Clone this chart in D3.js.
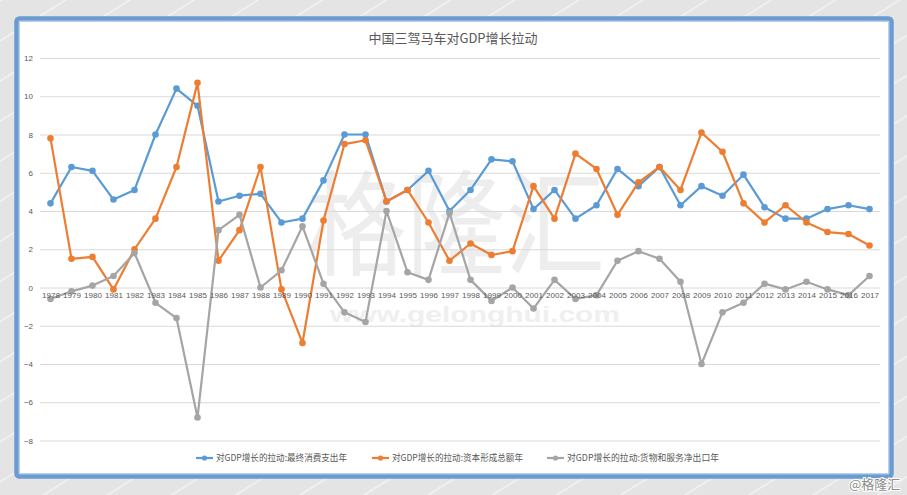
<!DOCTYPE html>
<html><head><meta charset="utf-8">
<script src="https://cdn.jsdelivr.net/npm/d3@7"></script>
<style>
html,body{margin:0;padding:0;background:#e3e3e3;}
svg{display:block;}
</style></head>
<body>
<svg id="c" width="907" height="495"></svg>
<script>
const years = [1978,1979,1980,1981,1982,1983,1984,1985,1986,1987,1988,1989,1990,1991,1992,1993,1994,1995,1996,1997,1998,1999,2000,2001,2002,2003,2004,2005,2006,2007,2008,2009,2010,2011,2012,2013,2014,2015,2016,2017];
const consumption = [4.4,6.3,6.1,4.6,5.1,8.0,10.4,9.5,4.5,4.8,4.9,3.4,3.6,5.6,8.0,8.0,4.5,5.1,6.1,4.0,5.1,6.7,6.6,4.1,5.1,3.6,4.3,6.2,5.3,6.3,4.3,5.3,4.8,5.9,4.2,3.6,3.6,4.1,4.3,4.1];
const capital = [7.8,1.5,1.6,-0.1,2.0,3.6,6.3,10.7,1.4,3.0,6.3,-0.1,-2.9,3.5,7.5,7.7,4.5,5.1,3.4,1.4,2.3,1.7,1.9,5.3,3.6,7.0,6.2,3.8,5.5,6.3,5.1,8.1,7.1,4.4,3.4,4.3,3.4,2.9,2.8,2.2];
const netExports = [-0.6,-0.2,0.1,0.6,1.8,-0.8,-1.6,-6.8,3.0,3.8,0.0,0.9,3.2,0.2,-1.3,-1.8,4.0,0.8,0.4,3.9,0.4,-0.7,0.0,-1.1,0.4,-0.6,-0.4,1.4,1.9,1.5,0.3,-4.0,-1.3,-0.8,0.2,-0.1,0.3,-0.1,-0.4,0.6];
const seriesNames = ["对GDP增长的拉动:最终消费支出年","对GDP增长的拉动:资本形成总额年","对GDP增长的拉动:货物和服务净出口年"];
const yTicks = [-8,-6,-4,-2,0,2,4,6,8,10,12];
const title = "中国三驾马车对GDP增长拉动";

const colors = ["#5b9bd5","#ed7d31","#a5a5a5"];
const svg = d3.select("#c");
const cjk = "'Noto Sans CJK SC','Noto Sans',sans-serif";
const lat = "'Liberation Sans','Noto Sans',sans-serif";

// background with diagonal stripes
const defs = svg.append("defs");
const pat = defs.append("pattern").attr("id","stripes").attr("patternUnits","userSpaceOnUse")
  .attr("width",34).attr("height",34).attr("patternTransform","rotate(-32)");
pat.append("rect").attr("width",34).attr("height",34).attr("fill","#e4e4e4");
pat.append("rect").attr("x",0).attr("y",0).attr("width",34).attr("height",1.4).attr("fill","#f4f4f4");
svg.append("rect").attr("width",907).attr("height",495).attr("fill","url(#stripes)");

// frame
svg.append("rect").attr("x",16.5).attr("y",18.5).attr("width",875).attr("height",458)
  .attr("rx",3).attr("fill","#ffffff").attr("stroke","#6a9bd1").attr("stroke-width",4.5);
svg.append("rect").attr("x",19.5).attr("y",21.5).attr("width",869).attr("height",452)
  .attr("fill","none").attr("stroke","#b9d0ea").attr("stroke-width",1);

// watermark
svg.append("text").attr("x",307).attr("y",266).attr("textLength",298).attr("lengthAdjust","spacingAndGlyphs")
  .attr("font-family",cjk).attr("font-size",114).attr("fill","#ededed").text("格隆汇");
svg.append("text").attr("x",330).attr("y",322).attr("textLength",290).attr("lengthAdjust","spacingAndGlyphs")
  .attr("font-family",lat).attr("font-size",22).attr("font-weight","bold").attr("fill","#efefef").text("www.gelonghui.com");

const x = d3.scalePoint().domain(years).range([40,880]).padding(0.5);
const y = d3.scaleLinear().domain([-8,12]).range([440.5,58]);

// gridlines
const yAxis = d3.axisLeft(y).tickValues(yTicks).tickSize(-840).tickPadding(7);
const gy = svg.append("g").attr("transform","translate(40,0)").call(yAxis);
gy.select(".domain").remove();
gy.selectAll(".tick line").attr("stroke","#d9d9d9").attr("stroke-width",1);
gy.selectAll(".tick text").attr("fill","#595959").attr("font-family",lat).attr("font-size",8);

// title
svg.append("text").attr("x",453).attr("y",43).attr("text-anchor","middle")
  .attr("font-family",cjk).attr("font-size",13).attr("fill","#595959").text(title);

// series
const allSeries = [consumption, capital, netExports];
const line = d3.line().x((d,i)=>x(years[i])).y(d=>y(d));
allSeries.forEach((s,k)=>{
  const g = svg.append("g");
  g.append("path").datum(s).attr("d",line).attr("fill","none").attr("stroke",colors[k])
    .attr("stroke-width",2.2).attr("stroke-linejoin","round");
  g.selectAll("circle").data(s).join("circle").attr("cx",(d,i)=>x(years[i])).attr("cy",d=>y(d))
    .attr("r",3.3).attr("fill",colors[k]);
});

// x axis labels (category axis at zero)
const xAxis = d3.axisBottom(x).tickSize(0).tickPadding(5);
const gx = svg.append("g").attr("transform",`translate(0,${y(0)})`).call(xAxis);
gx.select(".domain").remove();
gx.selectAll(".tick text").attr("fill","#595959").attr("font-family",lat).attr("font-size",8);

// legend
const legX = [196,372,547];
const legW = [131,131,152];
seriesNames.forEach((n,k)=>{
  const g = svg.append("g").attr("transform",`translate(${legX[k]},458)`);
  g.append("line").attr("x1",0).attr("x2",17).attr("stroke",colors[k]).attr("stroke-width",2.2);
  g.append("circle").attr("cx",8.5).attr("r",2.6).attr("fill",colors[k]);
  g.append("text").attr("x",20).attr("y",3.3).attr("font-family",cjk).attr("font-size",9)
    .attr("textLength",legW[k]).attr("lengthAdjust","spacingAndGlyphs").attr("fill","#595959").text(n);
});

// corner watermark
svg.append("text").attr("x",849).attr("y",489).attr("font-family",cjk).attr("font-size",13)
  .attr("fill","#8c8c8c").attr("stroke","#ffffff").attr("stroke-width",2).attr("paint-order","stroke")
  .text("@格隆汇");
</script>
</body></html>
